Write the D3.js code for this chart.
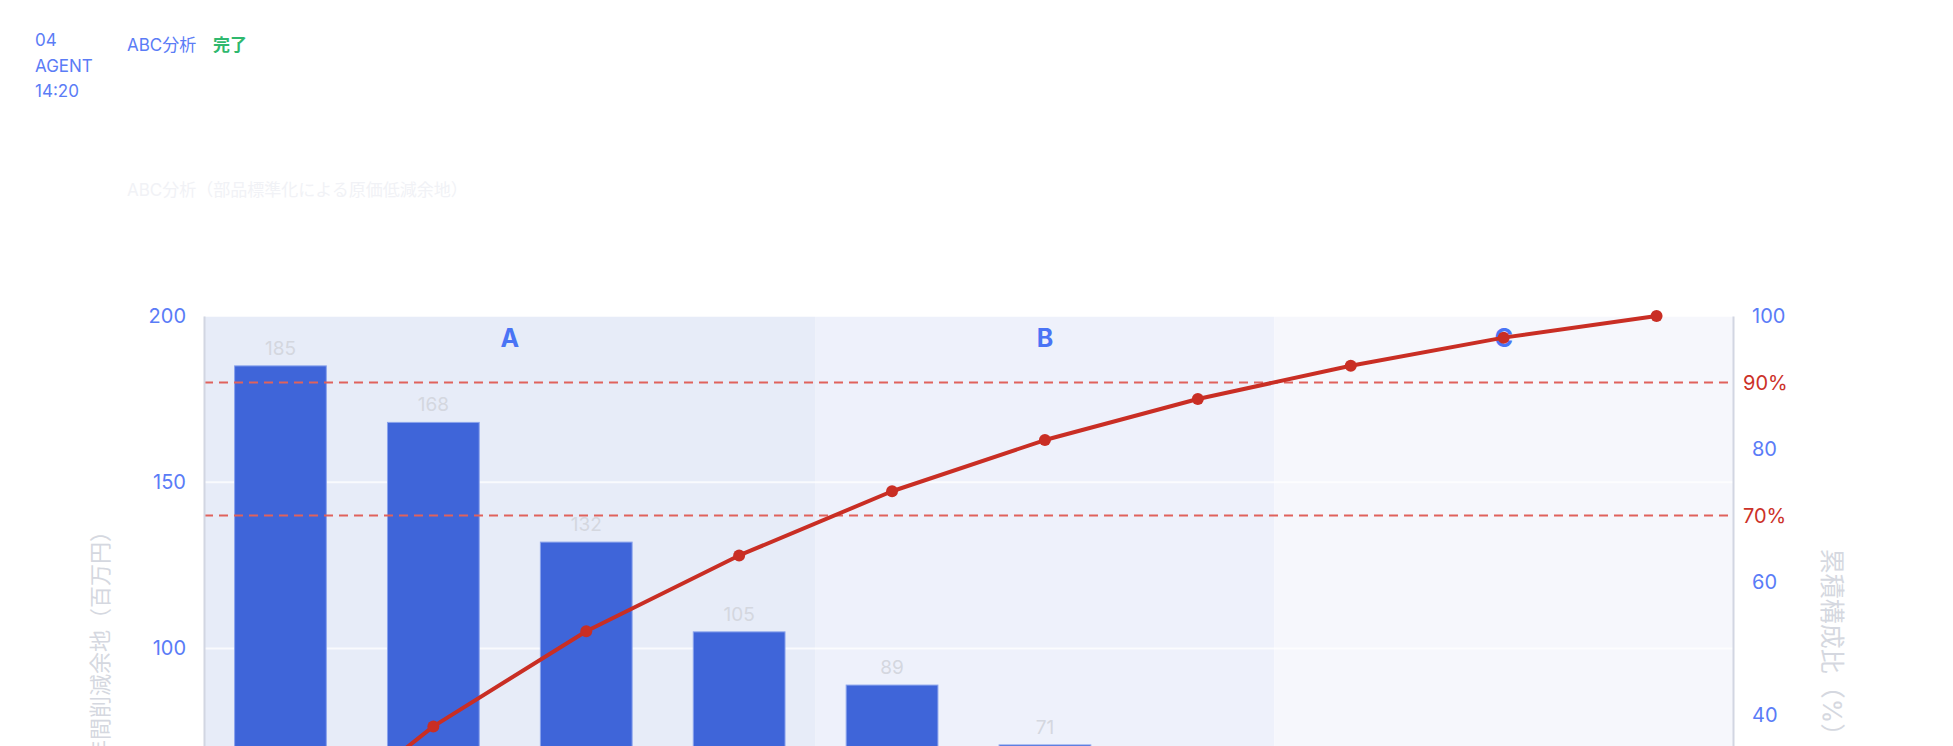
<!DOCTYPE html>
<html lang="ja">
<head>
<meta charset="utf-8">
<script src="https://cdn.jsdelivr.net/npm/d3@7/dist/d3.min.js"></script>
<style>
  html, body { margin: 0; padding: 0; background: #fff; overflow: hidden; }
  svg { display: block; font-family: "Inter", "Noto Sans CJK JP", sans-serif; }
</style>
</head>
<body>
<div id="chart"></div>
<script>
// data
const categories = ["締結部品", "樹脂成形品", "板金部品", "ハーネス", "電子基板", "ゴム部品", "切削部品", "ばね", "ラベル", "梱包材"];
const savings = [185, 168, 132, 105, 89, 71, 57, 46, 39, 30];
const abcClass = ["A", "A", "A", "A", "B", "B", "B", "C", "C", "C"];
const zoneNames = ["A", "B", "C"];
const leftTicks = [0, 50, 100, 150, 200];
const rightTicks = [0, 20, 40, 60, 80, 100];
const thresholds = [70, 90];

var W = 1953, H = 1120;
var margin = {top: 316, right: 220, bottom: 139, left: 204};
var plotW = W - margin.left - margin.right,
    plotH = H - margin.top - margin.bottom;

var svg = d3.select("#chart").append("svg")
    .attr("width", W)
    .attr("height", H);

// header
var head = svg.append("g").style("font-size", "17px");
["04", "AGENT", "14:20"].forEach(function(t, i) {
  head.append("text").attr("x", 35).attr("y", 46 + i * 25.5)
    .attr("fill", "#5b7cf6").text(t);
});
head.append("text").attr("x", 127).attr("y", 51).attr("fill", "#5b7cf6").text("ABC分析");
head.append("text").attr("x", 213).attr("y", 51).attr("fill", "#2fb86e")
  .style("font-weight", "bold").text("完了");
svg.append("text").attr("x", 127).attr("y", 196)
  .style("font-size", "17px").attr("fill", "#f1f2f6")
  .text("ABC分析（部品標準化による原価低減余地）");

var g = svg.append("g")
    .attr("transform", "translate(" + margin.left + "," + margin.top + ")");

var x = d3.scaleBand()
    .domain(categories)
    .range([0, plotW])
    .paddingInner(0.4)
    .paddingOuter(0.2);

var yL = d3.scaleLinear().domain([0, 200]).range([plotH, 0]);
var yR = d3.scaleLinear().domain([0, 100]).range([plotH, 0]);

var total = d3.sum(savings);
var cum = d3.cumsum(savings).map(function(v) { return v / total * 100; });

// zone backgrounds
var zoneFill = {A: "#e7ecf8", B: "#eef1fb", C: "#f6f7fc"};
var half = x.step() * x.paddingOuter();
var zones = zoneNames.map(function(z) {
  var idx = categories.filter(function(c, i) { return abcClass[i] === z; });
  return {
    name: z,
    x0: x(idx[0]) - half,
    x1: x(idx[idx.length - 1]) + x.bandwidth() + half
  };
});

g.selectAll(".zone")
  .data(zones)
  .enter().append("rect")
  .attr("class", "zone")
  .attr("x", function(d) { return d.x0; })
  .attr("width", function(d) { return d.x1 - d.x0; })
  .attr("y", 0)
  .attr("height", plotH)
  .attr("fill", function(d) { return zoneFill[d.name]; });

// gridlines
g.selectAll(".grid")
  .data(leftTicks)
  .enter().append("line")
  .attr("x1", 0).attr("x2", plotW)
  .attr("y1", function(d) { return yL(d); })
  .attr("y2", function(d) { return yL(d); })
  .attr("stroke", "#ffffff")
  .attr("stroke-opacity", 0.75)
  .attr("stroke-width", 2);

// bars
g.selectAll(".bar")
  .data(savings)
  .enter().append("rect")
  .attr("class", "bar")
  .attr("x", function(d, i) { return x(categories[i]); })
  .attr("width", x.bandwidth())
  .attr("y", function(d) { return yL(d); })
  .attr("height", function(d) { return plotH - yL(d); })
  .attr("fill", "#3f65d9")
  .attr("stroke", "#8aa3ec")
  .attr("stroke-width", 1);

g.selectAll(".barLabel")
  .data(savings)
  .enter().append("text")
  .attr("class", "barLabel")
  .attr("x", function(d, i) { return x(categories[i]) + x.bandwidth() / 2; })
  .attr("y", function(d) { return yL(d) - 11; })
  .attr("text-anchor", "middle")
  .style("font-size", "19px")
  .attr("fill", "#d4d7df")
  .text(function(d) { return d; });

// threshold lines
g.selectAll(".thr")
  .data(thresholds)
  .enter().append("line")
  .attr("x1", 0).attr("x2", plotW)
  .attr("y1", function(d) { return yR(d); })
  .attr("y2", function(d) { return yR(d); })
  .attr("stroke", "#e0625c")
  .attr("stroke-width", 2)
  .attr("stroke-dasharray", "9,6");

g.selectAll(".thrLabel")
  .data(thresholds)
  .enter().append("text")
  .attr("x", plotW + 10)
  .attr("y", function(d) { return yR(d); })
  .attr("dy", "0.35em")
  .style("font-size", "20px")
  .attr("fill", "#cc3128")
  .text(function(d) { return d + "%"; });

// zone labels
g.selectAll(".zoneLabel")
  .data(zones)
  .enter().append("text")
  .attr("x", function(d) { return (d.x0 + d.x1) / 2; })
  .attr("y", 22)
  .attr("dy", "0.35em")
  .attr("text-anchor", "middle")
  .style("font-size", "25px")
  .style("font-weight", "bold")
  .attr("fill", "#4a74f5")
  .text(function(d) { return d.name; });

// cumulative line
var line = d3.line()
  .x(function(d, i) { return x(categories[i]) + x.bandwidth() / 2; })
  .y(function(d) { return yR(d); });

g.append("path")
  .datum(cum)
  .attr("d", line)
  .attr("fill", "none")
  .attr("stroke", "#c92e24")
  .attr("stroke-width", 4)
  .attr("stroke-linejoin", "round");

g.selectAll(".dot")
  .data(cum)
  .enter().append("circle")
  .attr("cx", function(d, i) { return x(categories[i]) + x.bandwidth() / 2; })
  .attr("cy", function(d) { return yR(d); })
  .attr("r", 6)
  .attr("fill", "#c92e24");

// axes
var axisL = g.append("g")
  .call(d3.axisLeft(yL).tickValues(leftTicks).tickSize(0).tickPadding(18));
var axisR = g.append("g")
  .attr("transform", "translate(" + plotW + ",0)")
  .call(d3.axisRight(yR).tickValues(rightTicks).tickSize(0).tickPadding(19));
var axisX = g.append("g")
  .attr("transform", "translate(0," + plotH + ")")
  .call(d3.axisBottom(x).tickSize(0).tickPadding(14));

[axisL, axisR, axisX].forEach(function(a) {
  a.selectAll(".domain").attr("stroke", "#d2d6e2").attr("stroke-width", 2);
  a.selectAll("text")
    .style("font-size", "20px")
    .style("font-family", "Inter, 'Noto Sans CJK JP', sans-serif")
    .attr("fill", "#5a7cf7");
});

// axis titles
svg.append("text")
  .attr("transform", "translate(100,520) rotate(-90)")
  .attr("text-anchor", "end")
  .attr("dy", "0.35em")
  .style("font-size", "22px")
  .attr("fill", "#d5d8e0")
  .text("年間削減余地（百万円）");

svg.append("text")
  .attr("transform", "translate(1832," + (margin.top + plotH / 2) + ") rotate(90)")
  .attr("text-anchor", "middle")
  .attr("dy", "0.35em")
  .style("font-size", "25px")
  .attr("fill", "#d5d8e0")
  .text("累積構成比（%）");
</script>
</body>
</html>
